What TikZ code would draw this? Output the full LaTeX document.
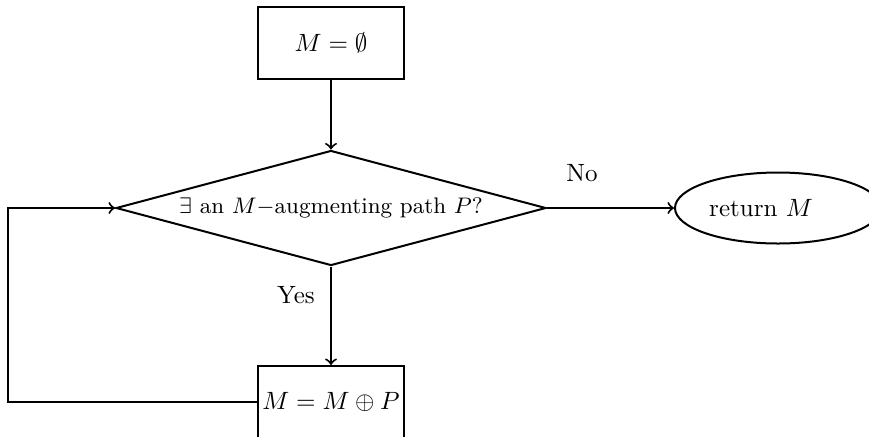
\documentclass[tikz,border=0pt]{standalone}
\usetikzlibrary{shapes.geometric}
\begin{document}
\begin{tikzpicture}[x=0.4pt,y=-0.4pt,
  procbox/.style={draw, thick, rectangle, minimum width=58.4pt, minimum height=28.8pt, inner sep=0pt},
  decision/.style={draw, thick, diamond, shape aspect=3.5, inner sep=0pt, minimum width=172pt, minimum height=46pt, font=\small},
  terminal/.style={draw, thick, ellipse, minimum width=82.4pt, minimum height=28.4pt, inner sep=0pt},
  flow/.style={thick, ->},
  lbl/.style={inner sep=0pt}]
\useasboundingbox (0,0) rectangle (869,436);
\node[procbox] (init) at (331,43) {$M=\emptyset$};
\node[decision] (test) at (331,208) {$\exists$ an $M-$augmenting path $P$?};
\node[terminal] (ret) at (778,208) {\hspace*{-13.6pt}return $M$};
\node[procbox] (upd) at (331,402) {$M=M\oplus P$};
\node[lbl] (no) at (582,173) {No};
\node[lbl] (yes) at (296,295) {Yes};
\coordinate (corner) at (8,402);
\draw[flow] (init) -- (test);
\draw[flow] (test.east) -- (ret.west);
\draw[flow] (test.south) -- (upd.north);
\draw[flow] (upd.west) -- (corner) |- (test.west);
\end{tikzpicture}
\end{document}
